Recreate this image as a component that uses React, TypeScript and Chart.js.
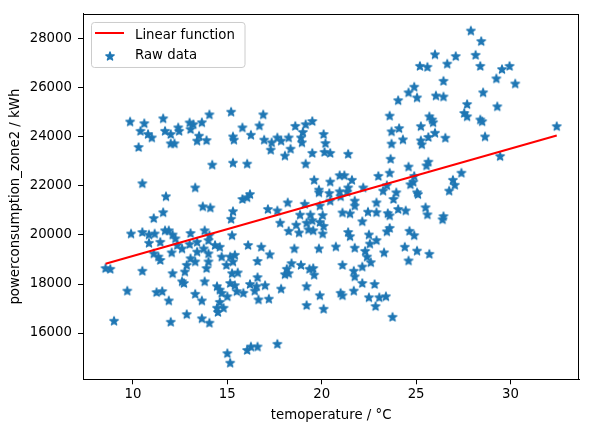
import React, { useEffect, useRef } from "react";
import { Chart, registerables } from "chart.js";

Chart.register(...registerables);

// temperature (°C) of each raw sample
const temperature = [
  8.55, 8.8, 9.0, 9.7, 9.9, 9.85, 10.6, 11.6, 14.05, 15.2,
  15.8, 10.4, 10.8, 11.0, 11.7, 12.0, 12.4, 12.45, 13.0, 13.2,
  13.05, 13.65, 13.5, 13.4, 13.9, 12.0, 12.2, 15.3, 15.35, 10.3,
  14.2, 15.3, 10.5, 13.3, 11.75, 15.8, 13.7, 14.1, 11.6, 15.3,
  11.1, 15.2, 10.5, 10.85, 11.15, 11.7, 11.9, 12.1, 12.25, 13.05,
  13.8, 14.05, 15.25, 10.85, 11.45, 12.35, 13.0, 13.4, 14.0, 14.35,
  14.6, 11.1, 11.35, 11.45, 12.05, 12.6, 13.4, 13.75, 14.0, 13.05,
  13.3, 12.85, 14.0, 13.9, 14.7, 15.15, 15.4, 15.3, 14.95, 10.5,
  12.1, 12.75, 12.6, 12.7, 13.8, 15.25, 15.55, 15.15, 15.4, 14.45,
  14.6, 14.7, 15.0, 15.5, 15.85, 11.25, 11.55, 13.3, 13.65, 11.9,
  14.6, 14.45, 14.8, 14.5, 12.85, 13.65, 14.05, 12.0, 15.0, 15.15,
  16.9, 16.7, 16.25, 18.6, 19.15, 19.5, 16.95, 17.35, 17.65, 17.85,
  18.25, 18.9, 19.0, 18.95, 17.3, 18.35, 18.05, 20.1, 20.2, 20.15,
  20.45, 19.5, 21.4, 19.15, 16.05, 23.6, 24.05, 23.7, 23.7, 23.65,
  23.6, 23.0, 24.1, 20.95, 21.2, 19.6, 20.45, 21.6, 19.85, 19.85,
  20.4, 20.95, 21.4, 21.35, 22.2, 23.25, 23.45, 23.95, 16.2, 16.05,
  17.15, 18.2, 19.1, 19.9, 20.45, 21.0, 21.75, 21.75, 22.9, 23.8,
  17.65, 18.85, 19.4, 20.05, 21.1, 21.5, 22.45, 22.9, 23.5, 24.05,
  17.8, 23.6, 18.65, 19.2, 19.5, 19.9, 20.1, 18.25, 18.8, 19.3,
  19.55, 20.05, 21.4, 21.5, 22.15, 22.5, 22.9, 22.55, 23.45, 23.6,
  16.1, 16.8, 17.25, 16.6, 18.55, 19.85, 20.75, 21.75, 22.3, 22.4,
  22.6, 23.3, 18.4, 18.15, 18.05, 18.25, 18.9, 19.35, 19.55, 19.6,
  21.1, 21.7, 21.75, 22.15, 16.6, 16.2, 16.55, 17.0, 16.45, 17.85,
  19.2, 16.65, 17.2, 19.9, 21.0, 21.1, 21.7, 22.15, 22.8, 22.5,
  23.05, 23.4, 22.85, 19.2, 20.1, 23.75, 16.05, 16.25, 16.6, 17.65,
  27.9, 28.45, 26.0, 27.1, 28.15, 25.2, 25.6, 26.65, 28.4, 29.55,
  29.95, 29.25, 30.25, 26.45, 24.9, 24.6, 25.05, 26.05, 26.45, 28.55,
  27.7, 27.55, 27.7, 29.3, 25.7, 25.85, 25.9, 25.25, 28.4, 28.5,
  24.3, 25.25, 25.3, 25.65, 26.0, 26.55, 28.65, 32.45, 29.45, 24.6,
  25.55, 25.65, 27.4, 24.9, 24.7, 24.85, 26.95, 27.05, 26.75, 25.05,
  25.1, 24.45, 25.5, 25.6, 26.45, 26.4, 24.65, 24.9, 24.4, 25.05,
  25.7, 24.6,
];

// power consumption of zone 2 (kWh), same order as temperature
const consumption = [
  18650, 18620, 16500, 17730, 20060, 24630, 24560, 24760, 24920, 25030,
  24390, 24250, 24120, 23980, 24250, 24120, 24390, 24250, 24590, 24520,
  24320, 24600, 24050, 23850, 23870, 23740, 23740, 24020, 23890, 23590,
  22870, 22950, 22110, 21940, 21580, 21470, 21170, 21120, 20930, 20970,
  20690, 20660, 20120, 20020, 20060, 20190, 20190, 20020, 19860, 20080,
  20190, 19990, 19990, 19680, 19720, 19590, 19630, 19720, 19790, 19590,
  19520, 19250, 19120, 18980, 19290, 19450, 19320, 19450, 19250, 19050,
  18920, 18780, 18920, 18650, 19120, 19120, 19190, 18920, 18780, 18540,
  18440, 18510, 18110, 18040, 18110, 18440, 18470, 18040, 17950, 17910,
  17770, 17640, 17500, 17710, 17640, 17670, 17710, 17600, 17330, 17330,
  17270, 17030, 17030, 16860, 16770, 16600, 16420, 16460, 15180, 14790,
  24920, 24470, 24090, 24450, 24520, 24650, 23890, 23780, 23980, 23850,
  23980, 23980, 24200, 23780, 23480, 23520, 23240, 24120, 23750, 23390,
  23350, 23350, 23310, 22910, 22910, 24870, 25500, 24230, 23730, 23110,
  22540, 22410, 24360, 22440, 22440, 22250, 22180, 22250, 21850, 21740,
  21710, 21780, 21940, 21770, 21940, 21810, 22030, 21740, 21670, 21540,
  21060, 21330, 21270, 21200, 21400, 21580, 21400, 21200, 21330, 21470,
  21000, 20830, 20830, 20810, 20920, 20880, 20950, 20930, 20890, 21060,
  20500, 20800, 20420, 20500, 20600, 20530, 20370, 20170, 20100, 20230,
  20190, 20060, 20120, 19950, 20560, 20020, 19790, 19650, 20150, 20290,
  19590, 19520, 19210, 18940, 19450, 19450, 19530, 19480, 19350, 19120,
  18890, 19290, 18850, 18620, 18400, 18440, 18780, 18620, 18650, 18380,
  18780, 18540, 18310, 18710, 18280, 18000, 17910, 17950, 17730, 17810,
  17910, 17370, 17400, 17540, 17640, 17540, 17730, 18040, 18000, 17460,
  17460, 17500, 17100, 17140, 16990, 16660, 15310, 15450, 15450, 15560,
  28340, 27910, 27370, 27300, 27350, 26900, 26860, 26990, 26900, 26770,
  26900, 26390, 26180, 26290, 26050, 25820, 25610, 25690, 25650, 25820,
  25340, 24980, 24840, 25250, 24840, 24710, 24600, 24440, 24710, 24640,
  23900, 23860, 23700, 24000, 24170, 23970, 24020, 24440, 23220, 22790,
  22840, 22990, 22540, 22410, 22070, 22170, 22250, 22050, 21810, 21740,
  21670, 21000, 21130, 20840, 20770, 20640, 20170, 19990, 19520, 19360,
  19230, 18960,
];

const xTicks = [10, 15, 20, 25, 30];
const yTicks = [16000, 18000, 20000, 22000, 24000, 26000, 28000];

// fitted line y = intercept + slope * x
const fitSlope = 219;
const fitIntercept = 16955;

const seriesNames = ["Linear function", "Raw data"];

const BLUE = "#1f77b4";
const FONT = "DejaVu Sans";
const FONT_SIZE = 13.3;

function makeStar(size: number, radius: number, color: string) {
  const c = document.createElement("canvas");
  c.width = size;
  c.height = size;
  const ctx = c.getContext("2d")!;
  const inner = radius * 0.382;
  ctx.beginPath();
  for (let i = 0; i < 10; i++) {
    const r = i % 2 === 0 ? radius : inner;
    const a = -Math.PI / 2 + (i * Math.PI) / 5;
    const px = size / 2 + r * Math.cos(a);
    const py = size / 2 + 0.4 + r * Math.sin(a);
    if (i === 0) ctx.moveTo(px, py);
    else ctx.lineTo(px, py);
  }
  ctx.closePath();
  ctx.fillStyle = color;
  ctx.fill();
  ctx.strokeStyle = color;
  ctx.lineWidth = 1.4;
  ctx.lineJoin = "round";
  ctx.stroke();
  return c;
}

const App = () => {
  const chartRef = useRef<HTMLCanvasElement>(null);

  useEffect(() => {
    if (!chartRef.current) return;
    const star = makeStar(12, 4.4, BLUE);

    const xLo = Math.min(...temperature);
    const xHi = Math.max(...temperature);
    const yLo = Math.min(...consumption);
    const yHi = Math.max(...consumption);
    const xm = (xHi - xLo) * 0.05;
    const ym = (yHi - yLo) * 0.05;

    const fitPoints = [xLo, xHi].map((x) => ({ x, y: fitIntercept + fitSlope * x }));
    const rawPoints = temperature.map((x, i) => ({ x, y: consumption[i] }));

    const framePlugin = {
      id: "frame",
      afterDatasetsDraw(chart: any) {
        const { ctx, chartArea: a } = chart;
        ctx.save();
        ctx.strokeStyle = "#000";
        ctx.lineWidth = 1;
        const l = Math.round(a.left) + 0.5;
        const t = Math.round(a.top) + 0.5;
        const r = Math.round(a.right) - 0.5;
        const b = Math.round(a.bottom) + 0.5;
        ctx.strokeRect(l, t, r - l, b - t);
        ctx.restore();
      },
    };

    const legendPlugin = {
      id: "insideLegend",
      afterDraw(chart: any) {
        const { ctx, chartArea: a } = chart;
        const x0 = a.left + 8;
        const y0 = a.top + 8;
        const w = 153.5;
        const h = 45;
        ctx.save();
        ctx.beginPath();
        ctx.roundRect(x0 + 0.5, y0 + 0.5, w, h, 3);
        ctx.fillStyle = "rgba(255,255,255,0.8)";
        ctx.fill();
        ctx.strokeStyle = "#cccccc";
        ctx.lineWidth = 1;
        ctx.stroke();

        ctx.beginPath();
        ctx.moveTo(x0 + 4, y0 + 11);
        ctx.lineTo(x0 + 33, y0 + 11);
        ctx.strokeStyle = "#ff0000";
        ctx.lineWidth = 2;
        ctx.stroke();

        ctx.drawImage(star, x0 + 19 - star.width / 2, y0 + 34 - star.height / 2);

        ctx.fillStyle = "#000";
        ctx.font = `${FONT_SIZE}px "${FONT}"`;
        ctx.textBaseline = "alphabetic";
        ctx.textAlign = "left";
        ctx.fillText(seriesNames[0], x0 + 44, y0 + 17);
        ctx.fillText(seriesNames[1], x0 + 44, y0 + 37);
        ctx.restore();
      },
    };

    const font = { family: FONT, size: FONT_SIZE };

    const chart = new Chart(chartRef.current, {
      type: "scatter",
      data: {
        datasets: [
          {
            label: seriesNames[0],
            data: fitPoints,
            showLine: true,
            borderColor: "#ff0000",
            backgroundColor: "#ff0000",
            borderWidth: 2,
            pointRadius: 0,
            order: 0,
          },
          {
            label: seriesNames[1],
            data: rawPoints,
            pointStyle: star,
            pointRadius: 4,
            backgroundColor: BLUE,
            borderColor: BLUE,
            order: 1,
          },
        ],
      },
      options: {
        animation: false,
        responsive: true,
        maintainAspectRatio: false,
        layout: { padding: { left: 0, right: 9.7, top: 9, bottom: 0 } },
        plugins: {
          legend: { display: false },
          tooltip: { enabled: false },
        },
        scales: {
          x: {
            type: "linear",
            min: xLo - xm,
            max: xHi + xm,
            afterBuildTicks: (s: any) => {
              s.ticks = xTicks.map((value) => ({ value }));
            },
            afterFit: (s: any) => {
              s.height = 52.7;
            },
            ticks: {
              color: "#000",
              font,
              padding: 2,
              maxRotation: 0,
              autoSkip: false,
              callback: (v: any) => String(v),
            },
            grid: { drawOnChartArea: false, drawTicks: true, tickLength: 5, color: "#000" },
            border: { display: true, color: "#000", width: 1 },
            title: {
              display: true,
              text: "temoperature / °C",
              color: "#000",
              font,
              padding: { top: 0, bottom: 8 },
            },
          },
          y: {
            type: "linear",
            min: yLo - ym,
            max: yHi + ym,
            afterBuildTicks: (s: any) => {
              s.ticks = yTicks.map((value) => ({ value }));
            },
            afterFit: (s: any) => {
              s.width = 83;
            },
            ticks: {
              color: "#000",
              font,
              padding: 6,
              autoSkip: false,
              callback: (v: any) => String(v),
            },
            grid: { drawOnChartArea: false, drawTicks: true, tickLength: 5, color: "#000" },
            border: { display: true, color: "#000", width: 1 },
            title: {
              display: true,
              text: "powerconsumption_zone2 / kWh",
              color: "#000",
              font,
              padding: { top: 8, bottom: 0 },
            },
          },
        },
      },
      plugins: [framePlugin, legendPlugin],
    });

    return () => {
      chart.destroy();
    };
  }, []);

  return (
    <div style={{ position: "absolute", left: 0, top: 0, width: 589, height: 432 }}>
      <canvas ref={chartRef} aria-label="temperature_vs_power" />
    </div>
  );
};

export default App;
